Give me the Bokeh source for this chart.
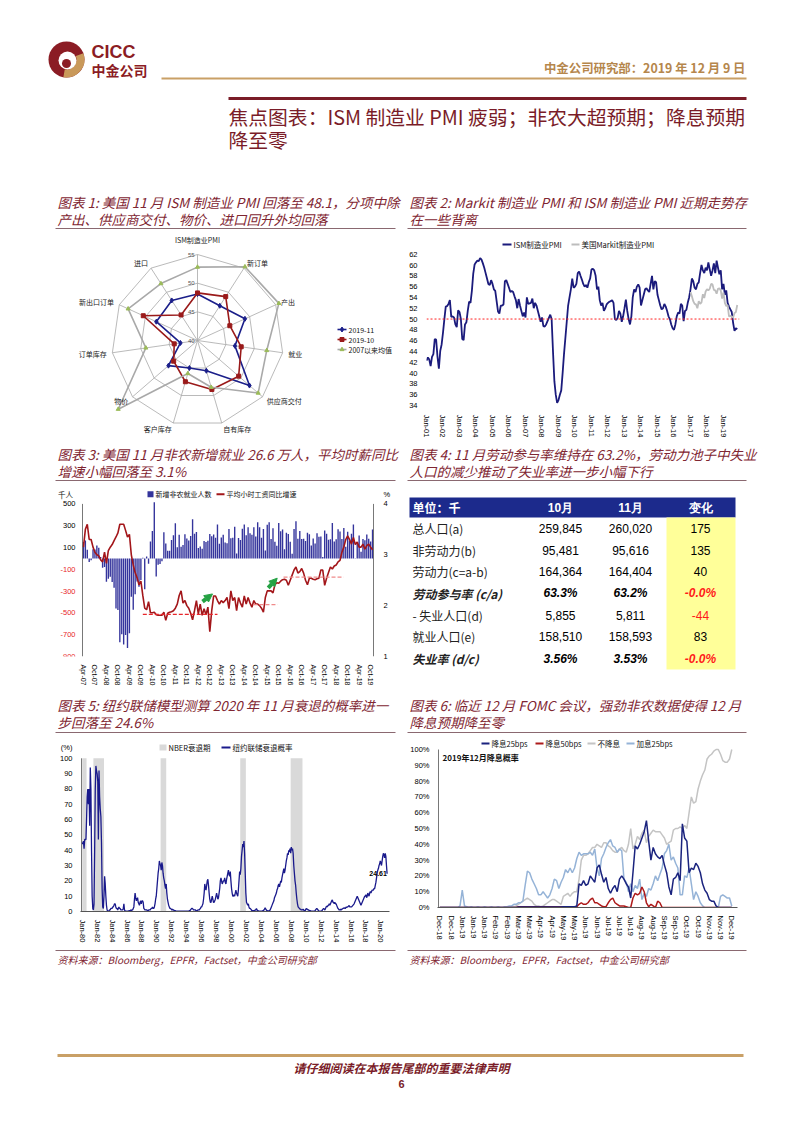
import math
from bokeh.plotting import figure
from bokeh.models import (Range1d, LinearAxis, FixedTicker, Arrow, NormalHead, Span,
                          PrintfTickFormatter)
from bokeh.layouts import column, row
from bokeh.embed import file_html
from bokeh.resources import INLINE
from bokeh.core.properties import value

CJK = "Noto Sans CJK SC"
SANS = "Liberation Sans"
MAROON = "#7f2632"
RULE = "#8a6870"
GOLD = "#c9a066"
LOGO_RED = "#8b1c24"

# ---------------- chart 1: radar ----------------
radar_axes = ["ISM制造业PMI", "新订单", "产出", "就业", "供应商交付", "自有库存",
              "客户库存", "物价", "订单库存", "新出口订单", "进口"]
pmi_nov = [48.1, 47.2, 49.1, 46.6, 52.0, 45.5, 45.0, 46.7, 43.0, 47.9, 48.3]
pmi_oct = [48.3, 49.1, 46.2, 47.7, 49.5, 48.9, 47.5, 45.5, 44.1, 50.4, 45.3]
pmi_avg = [52.8, 55.3, 55.6, 52.2, 54.0, 48.5, 46.0, 58.3, 49.1, 53.3, 51.8]
radar_series = ["2019-11", "2019-10", "2007以来均值"]
radar_ticks = [40, 45, 50, 55]

# ---------------- chart 2: ISM vs Markit ----------------
ism_2001 = [42.3, 42.9, 42.5, 41.3, 43.0, 43.5, 46.3, 46.2, 43.0, 40.8, 44.1, 45.3]
ism_2002 = [47.5, 50.0, 52.3, 52.4, 52.8, 53.5, 50.4, 50.5, 50.3, 49.0, 48.5, 51.6]
ism_2003 = [51.3, 50.0, 46.3, 46.1, 49.0, 49.4, 51.5, 53.2, 53.0, 55.2, 58.4, 60.1]
ism_2004 = [60.5, 60.8, 60.7, 61.3, 61.0, 60.3, 59.5, 58.5, 57.5, 56.5, 56.3, 57.2]
ism_2005 = [56.5, 55.5, 55.2, 53.3, 51.4, 51.0, 52.5, 52.5, 52.7, 57.0, 57.2, 56.5]
ism_2006 = [55.8, 55.0, 55.2, 55.0, 54.2, 53.5, 52.0, 53.7, 52.5, 51.5, 50.5, 51.2]
ism_2007 = [50.3, 54.0, 52.8, 52.9, 53.0, 53.8, 52.0, 53.0, 52.5, 51.5, 50.5, 49.5]
ism_2008 = [50.3, 48.7, 48.6, 49.0, 49.6, 50.2, 50.8, 50.0, 44.0, 38.5, 36.0, 34.5]
ism_2009 = [35.0, 36.0, 36.8, 40.0, 43.5, 46.5, 49.5, 52.5, 54.0, 55.5, 57.5, 55.8]
ism_2010 = [56.0, 56.5, 58.5, 58.8, 58.0, 57.3, 56.5, 56.0, 56.3, 55.8, 56.8, 57.5]
ism_2011 = [59.2, 59.3, 59.0, 58.0, 55.5, 56.0, 53.5, 52.5, 53.0, 51.5, 52.0, 52.7]
ism_2012 = [53.0, 53.2, 53.3, 53.5, 53.0, 50.0, 49.8, 50.2, 51.5, 51.0, 49.5, 50.5]
ism_2013 = [52.0, 53.6, 51.5, 50.0, 49.0, 50.5, 54.0, 55.5, 55.0, 56.0, 56.4, 55.8]
ism_2014 = [52.5, 53.5, 54.5, 55.5, 55.7, 55.3, 55.0, 56.5, 58.0, 55.5, 57.0, 56.8]
ism_2015 = [54.5, 53.5, 52.5, 51.8, 52.0, 52.8, 52.3, 51.5, 50.5, 50.0, 49.0, 48.3]
ism_2016 = [48.0, 49.0, 50.5, 51.2, 51.0, 52.8, 52.5, 49.6, 51.5, 51.7, 53.0, 54.0]
ism_2017 = [55.5, 57.5, 57.0, 55.8, 55.5, 56.5, 56.8, 58.5, 60.0, 59.0, 58.5, 59.5]
ism_2018 = [59.0, 60.5, 59.2, 58.0, 59.0, 60.3, 58.5, 60.8, 59.5, 58.3, 59.0, 55.5]
ism_2019 = [56.5, 54.5, 55.3, 53.0, 52.3, 51.8, 51.3, 49.3, 47.8, 48.3, 48.1]
markit_2017 = [55.0, 54.2, 53.3, 52.8, 52.7, 52.0, 53.3, 52.8, 53.1, 54.6, 53.9, 55.1]
markit_2018 = [55.5, 55.3, 55.6, 56.5, 56.4, 55.4, 55.3, 54.7, 55.6, 55.7, 55.3, 53.8]
markit_2019 = [54.9, 53.0, 52.4, 52.6, 50.5, 50.6, 50.4, 50.3, 51.1, 51.3, 52.6]
pmi_series = ["ISM制造业PMI", "美国Markit制造业PMI"]
pmi_years = list(range(2001, 2020))
pmi_year_labels = ["Jan-%02d" % (y % 100) for y in pmi_years]
pmi_ticks = list(range(34, 63, 2))

# ---------------- chart 3: payrolls & wages (Apr-2007 .. Nov-2019) ----------------
nfp_2007 = [150, 165, 79, -34, -18, 85, 82, 118, 97]
nfp_2008 = [14, -85, -79, -215, -186, -169, -216, -270, -459, -473, -770, -695]
nfp_2009 = [-791, -703, -823, -686, -351, -470, -329, -212, -260, -197, 6, -283]
nfp_2010 = [18, -50, 156, 251, 516, -167, -58, -51, -27, 241, 137, 71]
nfp_2011 = [70, 168, 212, 322, 102, 217, 106, 122, 221, 183, 164, 205]
nfp_2012 = [360, 226, 243, 96, 110, 88, 160, 150, 161, 225, 203, 219]
nfp_2013 = [190, 311, 135, 192, 218, 146, 140, 269, 185, 189, 291, 45]
nfp_2014 = [187, 168, 272, 310, 213, 286, 232, 218, 286, 200, 331, 286]
nfp_2015 = [190, 271, 72, 309, 331, 177, 277, 152, 116, 326, 250, 265]
nfp_2016 = [85, 236, 225, 153, 43, 271, 342, 181, 251, 178, 180, 160]
nfp_2017 = [236, 221, 118, 183, 136, 232, 199, 200, 14, 257, 226, 172]
nfp_2018 = [176, 324, 155, 175, 268, 248, 178, 280, 108, 245, 162, 227]
nfp_2019 = [312, 1, 147, 210, 62, 178, 166, 219, 180, 156, 266]
wage_2007 = [3.15, 3.5, 3.6, 3.3, 3.3, 3.15, 3.05, 3.0, 2.98]
wage_2008 = [2.9, 2.86, 3.05, 2.83, 3.08, 3.15, 3.2, 3.28, 3.35, 3.43, 3.6, 3.6]
wage_2009 = [3.6, 3.48, 3.35, 3.4, 3.0, 2.8, 2.65, 2.55, 2.41, 2.48, 2.2, 1.95]
wage_2010 = [1.92, 2.08, 1.86, 1.86, 1.87, 1.82, 1.81, 1.81, 1.81, 1.87, 1.71, 1.85]
wage_2011 = [1.87, 1.88, 1.9, 1.95, 2.03, 2.2, 2.29, 2.05, 2.1, 2.0, 1.95, 1.85]
wage_2012 = [1.72, 1.9, 2.1, 1.84, 2.03, 1.81, 1.94, 1.82, 1.97, 1.49, 1.9, 2.19]
wage_2013 = [2.19, 2.1, 2.03, 2.1, 2.06, 2.1, 2.16, 1.94, 2.29, 2.1, 2.16, 1.9]
wage_2014 = [2.16, 2.05, 1.97, 2.19, 2.03, 2.16, 2.05, 1.97, 2.1, 2.03, 2.03, 2.0]
wage_2015 = [1.95, 1.87, 2.16, 2.29, 2.29, 2.29, 2.25, 2.41, 2.45, 2.44, 2.48, 2.51]
wage_2016 = [2.52, 2.5, 2.4, 2.5, 2.6, 2.7, 2.76, 2.64, 2.67, 2.73, 2.64, 2.5]
wage_2017 = [2.41, 2.54, 2.54, 2.52, 2.51, 2.53, 2.54, 2.7, 2.7, 2.4, 2.54, 2.65]
wage_2018 = [2.76, 2.72, 2.78, 2.8, 2.86, 2.89, 3.05, 3.15, 3.3, 3.37, 3.3, 3.21]
wage_2019 = [3.34, 3.2, 3.25, 3.15, 3.15, 3.21, 3.11, 3.18, 3.21, 3.15, 3.1]
nfp_series = ["新增非农就业人数", "平均小时工资同比增速"]
nfp_tick_labels = ["%s-%02d" % (m, y) for y in range(7, 20) for m in ("Apr", "Oct")]
nfp_left_ticks = [-900, -700, -500, -300, -100, 100, 300, 500]
wage_ticks = [1, 2, 3, 4]
wage_avg_start = [31, 88.8, 104.5]
wage_avg_end = [70, 101.4, 135.9]
wage_avg_level = [1.83, 2.02, 2.56]
arrow_x0 = [62.2, 96.5]
arrow_y0 = [2.08, 2.35]
arrow_x1 = [67.4, 101.2]
arrow_y1 = [2.23, 2.54]

# ---------------- chart 4: table ----------------
tbl_header = ["单位：千", "10月", "11月", "变化"]
tbl_labels = ["总人口(a)", "非劳动力(b)", "劳动力(c=a-b)", "劳动参与率 (c/a)",
              " - 失业人口(d)", "就业人口(e)", "失业率 (d/c)"]
tbl_oct = ["259,845", "95,481", "164,364", "63.3%", "5,855", "158,510", "3.56%"]
tbl_nov = ["260,020", "95,616", "164,404", "63.2%", "5,811", "158,593", "3.53%"]
tbl_chg = ["175", "135", "40", "-0.0%", "-44", "83", "-0.0%"]
tbl_bold_rows = [3, 6]
tbl_red_rows = [3, 4, 6]

# ---------------- chart 5: NY Fed recession probability ----------------
rec_1980 = [45, 44, 46, 41, 47, 47, 47, 60, 75, 80, 70, 80]
rec_1981 = [56, 94, 80, 40, 10, 2, 1, 5, 40, 80, 95, 92]
rec_1982 = [90, 85, 47, 92, 75, 67, 62, 45, 15, 3, 2, 10]
rec_1983 = [23, 18, 10, 4, 1, 0.5, 0.3, 0.5, 1, 1, 2, 2]
rec_1984 = [2, 3, 3, 4, 5, 5, 3, 2, 2, 1, 2, 3]
rec_1985 = [2, 2, 1, 1, 1, 1, 2, 5, 1, 0.5, 0.3, 0.3]
rec_1986 = [0.3, 0.2, 0.3, 0.5, 0.5, 0.5, 1, 0.5, 1, 1, 2, 3]
rec_1987 = [8, 12, 9, 7, 8, 9, 6, 5, 4, 6, 7, 5]
rec_1988 = [7, 7, 6, 2, 1.5, 1, 1, 1, 1, 0.5, 0.5, 1]
rec_1989 = [1, 1, 1.5, 2, 2, 3, 2, 2, 3, 5, 8, 10]
rec_1990 = [15, 20, 25, 28, 33, 31, 30, 27, 32, 30, 25, 22]
rec_1991 = [20, 17, 15, 18, 12, 8, 6, 4, 3, 2, 2, 1.5]
rec_1992 = [1, 1.5, 1, 1, 0.5, 0.5, 0.5, 0.3, 0.3, 0.2, 0.2, 0.2]
rec_1993 = [0.2, 0.2, 0.3, 0.2, 0.2, 0.3, 0.3, 0.2, 0.2, 0.2, 0.2, 0.2]
rec_1994 = [0.2, 0.2, 0.3, 0.3, 0.5, 0.5, 1, 1.5, 2, 2, 1.5, 1]
rec_1995 = [1, 1, 1, 0.5, 0.5, 0.5, 1, 1, 1, 1.5, 2, 3]
rec_1996 = [3, 4, 5, 8, 12, 18, 15, 14, 17, 20, 21, 17]
rec_1997 = [12, 8, 6, 6, 8, 10, 8, 6, 6, 7, 8, 10]
rec_1998 = [12, 10, 8, 9, 12, 15, 20, 22, 20, 18, 19, 20]
rec_1999 = [20, 22, 19, 18, 21, 23, 25, 27, 24, 23, 26, 20]
rec_2000 = [15, 12, 10, 10, 11, 10, 12, 14, 12, 11, 10, 14]
rec_2001 = [20, 26, 24, 28, 36, 40, 44, 42, 46, 38, 25, 12]
rec_2002 = [6, 5, 4, 5, 3, 2, 2, 1.5, 1, 0.5, 0.5, 0.5]
rec_2003 = [0.5, 0.5, 1, 1, 2, 1, 0.5, 0.5, 0.3, 0.3, 0.3, 0.3]
rec_2004 = [0.3, 0.3, 0.5, 0.5, 1, 1.5, 2.5, 1.5, 1, 0.5, 0.5, 0.3]
rec_2005 = [0.5, 0.5, 1, 2, 3, 4, 5, 6, 7, 9, 10, 11]
rec_2006 = [12, 14, 15, 17, 18, 16, 18, 20, 19, 22, 24, 26]
rec_2007 = [28, 25, 27, 30, 33, 35, 38, 37, 40, 39, 41, 38]
rec_2008 = [42, 40, 41, 38, 30, 25, 20, 17, 12, 8, 5, 3]
rec_2009 = [2.5, 2, 1.5, 1.5, 1, 1, 1, 1.5, 1, 0.5, 0.5, 1]
rec_2010 = [2, 1.5, 1.5, 1, 1, 0.5, 0.5, 0.5, 0.3, 0.3, 0.3, 0.3]
rec_2011 = [0.3, 0.3, 0.5, 1, 1.5, 2, 1.5, 1, 0.5, 0.3, 0.3, 0.3]
rec_2012 = [0.3, 0.5, 1, 1.5, 2, 1.5, 1, 2, 3, 3.5, 3, 4]
rec_2013 = [4, 5, 4, 5, 6, 7, 7.5, 6, 6, 5, 6, 5]
rec_2014 = [5, 4, 3, 2, 1.5, 1, 1, 1.5, 1, 1.5, 1.5, 2]
rec_2015 = [2, 2.5, 2, 2, 3, 2.5, 3, 3, 3.5, 4, 3, 3]
rec_2016 = [3, 3, 3.5, 4, 4.5, 5, 6, 7, 8, 9, 10, 9]
rec_2017 = [8, 7, 6, 5, 4, 5, 6, 7, 8, 9, 10, 10]
rec_2018 = [11, 9, 10, 12, 11, 10, 12, 13, 12, 13, 14, 14]
rec_2019 = [14, 15, 15, 17, 19, 22, 25, 27, 28, 30, 31, 33]
rec_2020 = [32, 30, 33, 36, 38, 37, 35, 38, 36, 30, 24.61]
nber_start = [(1980, 1), (1981, 7), (1990, 7), (2001, 3), (2007, 12)]
nber_end = [(1980, 7), (1982, 11), (1991, 3), (2001, 11), (2009, 6)]
rec_series = ["NBER衰退期", "纽约联储衰退概率"]
rec_years = list(range(1980, 2021, 2))
rec_year_labels = ["Jan-%02d" % (y % 100) for y in rec_years]
rec_ticks = list(range(0, 101, 10))

# ---------------- chart 6: Dec-2019 FOMC probabilities ----------------
fomc_days = list(range(0, 261, 2))
fomc_hike25 = [0, 0, 0, 0, 0, 0, 0, 0, 0, 1,
               11, 1, 0.5, 0, 0.5, 0, 0, 0.5, 0, 0,
               0.5, 0, 0, 0.5, 0, 0, 0.5, 0, 0, 0.5,
               0.5, 1, 1, 2, 2, 3, 3, 4, 14, 23,
               22, 18, 15, 12, 8, 8, 10, 8, 6, 8,
               12, 18, 17, 12, 16, 19, 24, 22, 25, 22,
               25, 31, 35, 33, 34, 34, 34, 35, 33, 37,
               25, 20, 31, 34, 38, 41, 43, 39, 38, 35,
               37, 36, 18, 16, 10, 15, 10, 14, 12, 18,
               5, 9, 7, 12, 11, 15, 20, 17, 21, 25,
               34, 36, 40, 30, 32, 28, 25, 8, 8, 20,
               19, 25, 15, 5, 10, 7, 3, 1, 0, 0,
               0, 0, 0, 0, 0, 7, 8, 7, 6, 6,
               1]
fomc_hold = [0, 0, 0, 0, 0, 0, 0, 0, 0, 0,
             0, 0, 0, 0, 0, 0, 0, 0, 0, 0,
             0, 0, 0, 0, 0, 0, 0, 0, 0, 0,
             0, 0, 0.5, 0.5, 1, 2, 3, 4, 5, 6,
             5, 4, 2, 1, 1, 0.5, 1, 2, 3, 4,
             5, 5, 4, 3, 2, 7, 8, 9, 7, 9,
             10, 10, 18, 30, 33, 33, 34, 36, 38, 38,
             40, 39, 38, 41, 41, 39, 38, 36, 35, 35,
             37, 38, 36, 35, 40, 50, 37, 40, 45, 43,
             47, 49, 41, 45, 47, 49, 48, 48, 48, 46,
             44, 40, 41, 42, 49, 50, 50, 51, 50, 52,
             50, 60, 70, 66, 67, 75, 80, 84, 87, 94,
             96, 97, 99, 100, 100, 97, 93, 92, 92, 94,
             100]
fomc_cut25 = [0, 0, 0, 0, 0, 0, 0, 0, 0, 0,
              0, 0, 0, 0, 0, 0, 0, 0, 0, 0,
              0, 0, 0, 0, 0, 0, 0, 0, 0, 0,
              0, 0, 0, 0, 0, 0.3, 0.3, 0.3, 0.3, 0.3,
              0.3, 0.3, 0.3, 0.3, 0.3, 0.3, 0.3, 0.3, 0.3, 0.3,
              0.3, 0.3, 0.3, 0.3, 0.3, 0.5, 0.5, 0.5, 0.5, 0.5,
              0.5, 1, 15, 14, 17, 14, 15, 20, 18, 16,
              25, 27, 21, 16, 19, 12, 9, 12, 14, 10,
              18, 20, 18, 15, 13, 6, 22, 39, 37, 40,
              44, 48, 55, 42, 30, 38, 34, 32, 31, 33,
              27, 22, 13, 8, 18, 19, 22, 17, 53, 44,
              42, 22, 25, 24, 28, 26, 22, 15, 11, 9,
              5, 4, 4, 1, 0, 0, 0, 0, 0, 0,
              0]
fomc_cut50 = [0, 0, 0, 0, 0, 0, 0, 0, 0, 0,
              0, 0, 0, 0, 0, 0, 0, 0, 0, 0,
              0, 0, 0, 0, 0, 0, 0, 0, 0, 0,
              0, 0, 0, 0, 0, 0.5, 0.5, 0.5, 0.5, 0.5,
              0.5, 0.5, 0.5, 0.5, 0.5, 0.5, 0.5, 0.5, 0.5, 0.5,
              0.5, 0.5, 0.5, 0.5, 0.5, 0.5, 0.5, 0.5, 0.5, 0.5,
              0.5, 0.5, 2, 3, 2, 2, 3, 5, 6, 3,
              3, 2, 1, 0.5, 0.5, 3, 5, 6, 3, 2,
              1, 1, 1, 0.5, 0, 0, 6, 9, 8, 9,
              13, 10, 3, 0.5, 2, 1, 0, 4, 3, 0,
              0, 0, 0, 0, 0, 0, 0, 0, 0, 0,
              0, 0, 0, 0, 0, 0, 0, 0, 0, 0,
              0, 0, 0, 0, 0, 0, 0, 0, 0, 0,
              0]
fomc_series = ["降息25bps", "降息50bps", "不降息", "加息25bps"]
fomc_tick_days = list(range(0, 261, 10))
fomc_tick_labels = ["Dec-18", "Dec-18", "Jan-19", "Jan-19", "Jan-19", "Feb-19", "Feb-19",
                    "Mar-19", "Mar-19", "Apr-19", "Apr-19", "May-19", "May-19", "Jun-19",
                    "Jun-19", "Jul-19", "Jul-19", "Jul-19", "Aug-19", "Aug-19", "Sep-19",
                    "Sep-19", "Oct-19", "Oct-19", "Nov-19", "Nov-19", "Dec-19"]
fomc_ticks = list(range(0, 101, 10))


# ---------------- helpers ----------------
def mapper(p0, p1, d0, d1):
    return lambda px: d0 + (px - p0) * (d1 - d0) / (p1 - p0)


def fig(**kw):
    base_kw = dict(toolbar_location=None, output_backend="svg", outline_line_color=None,
                   frame_align=False)
    base_kw.update(kw)
    return figure(**base_kw)


def band(top, bottom):
    return fig(width=802, height=bottom - top, x_range=Range1d(0, 802), y_range=Range1d(bottom, top),
               x_axis_type=None, y_axis_type=None, min_border=0)


def txt(p, x, y, s, size, color, font=CJK, style="normal", align="left"):
    p.text(x=[x], y=[y], text=[s], text_font=value(font), text_font_size=size,
           text_color=color, text_font_style=style, text_align=align, text_baseline="middle")


def rules(p, y, color=RULE, width=1):
    p.segment(x0=[55, 407], y0=[y, y], x1=[395, 746], y1=[y, y], line_color=color, line_width=width)


def titles(p, y1, y2, left, right):
    for x, lines in ((57, left), (409, right)):
        txt(p, x, y1, lines[0], "13.5px", MAROON, style="italic")
        txt(p, x, y2, lines[1], "13.5px", MAROON, style="italic")


def manual_legend(p, X, Y, y, entries, size="7.5px"):
    for kind, xa, xb, lab, col in entries:
        if kind == "box":
            p.quad(left=[X(xa)], right=[X(xb)], top=[Y(y - 3)], bottom=[Y(y + 3)],
                   fill_color=col, line_color=None)
        else:
            p.segment(x0=[X(xa)], x1=[X(xb)], y0=[Y(y)], y1=[Y(y)], line_color=col, line_width=2)
        p.text(x=[X(xb + 2)], y=[Y(y)], text=[lab], text_font=value(CJK), text_font_size=size,
               text_color="#111111", text_align="left", text_baseline="middle")


def style_axis(ax, size="7.5px"):
    ax.major_label_text_font = SANS
    ax.major_label_text_font_size = size
    ax.major_label_text_color = "#000000"
    ax.minor_tick_line_color = None
    ax.major_tick_line_color = None
    ax.major_label_standoff = 3


# ---------------- band A: header ----------------
bandA = band(0, 232)
bandA.circle(x=[66], y=[59], radius=18, fill_color=LOGO_RED, line_color=None)
bandA.annular_wedge(x=[66], y=[59], inner_radius=10, outer_radius=18,
                    start_angle=-math.radians(100), end_angle=math.radians(20),
                    fill_color="#c9995a", line_color=None)
bandA.circle(x=[67], y=[60], radius=9, fill_color="white", line_color=None)
bandA.circle(x=[66], y=[63], radius=4.5, fill_color=LOGO_RED, line_color=None)
txt(bandA, 91, 51, "CICC", "18px", LOGO_RED, font=SANS, style="bold")
txt(bandA, 91, 69, "中金公司", "14px", LOGO_RED, style="bold")
txt(bandA, 745, 67, "中金公司研究部：2019 年 12 月 9 日", "12.4px", "#b5864c", style="bold", align="right")
bandA.segment(x0=[161], y0=[78], x1=[746], y1=[78], line_color=GOLD, line_width=2)
bandA.segment(x0=[228], y0=[98], x1=[746], y1=[98], line_color="#7a1c28", line_width=3)
txt(bandA, 228, 116, "焦点图表：ISM 制造业 PMI 疲弱；非农大超预期；降息预期", "19.8px", "#7a1c28")
txt(bandA, 228, 139, "降至零", "19.8px", "#7a1c28")
titles(bandA, 201, 218,
       ["图表 1: 美国 11 月 ISM 制造业 PMI 回落至 48.1，分项中除", "产出、供应商交付、物价、进口回升外均回落"],
       ["图表 2: Markit 制造业 PMI 和 ISM 制造业 PMI 近期走势存", "在一些背离"])
rules(bandA, 228)

# ---------------- chart 1: radar (page x 0..397, y 232..440, centre 197,340) ----------------
PXU = 86.0 / 15.0
rad = fig(width=397, height=208, x_range=Range1d((0 - 197) / PXU, (397 - 197) / PXU),
          y_range=Range1d(-(440 - 340) / PXU, (340 - 232) / PXU),
          x_axis_type=None, y_axis_type=None, min_border=0)
RX = mapper(197, 197 + PXU, 0, 1)
RY = mapper(340, 340 - PXU, 0, 1)
K = len(radar_axes)
ang = [2 * math.pi * k / K for k in range(K)]
base = radar_ticks[0]


def polar(vals):
    xs = [(v - base) * math.sin(a) for v, a in zip(vals, ang)]
    ys = [(v - base) * math.cos(a) for v, a in zip(vals, ang)]
    return xs, ys


for ring in radar_ticks[1:]:
    xs, ys = polar([ring] * K)
    rad.line(xs + xs[:1], ys + ys[:1], line_color="#a8a8a8", line_width=0.8)
sx, sy = polar([radar_ticks[-1]] * K)
rad.segment(x0=[0] * K, y0=[0] * K, x1=sx, y1=sy, line_color="#a8a8a8", line_width=0.8)

radar_style = [("#1b1f8a", "diamond", 5, "#1b1f8a"),
               ("#9a1a1a", "square", 4, "#9a1a1a"),
               ("#a9a9a9", "triangle", 4, "#9bbb59")]
for i, (vals, (col, mk, sz, mcol)) in enumerate(zip([pmi_nov, pmi_oct, pmi_avg], radar_style)):
    xs, ys = polar(vals)
    rad.line(xs + xs[:1], ys + ys[:1], line_color=col, line_width=1.6)
    rad.scatter(xs, ys, marker=mk, size=sz, fill_color=mcol, line_color=mcol)
    ly = 329 + 10 * i
    rad.segment(x0=[RX(337)], x1=[RX(346)], y0=[RY(ly)], y1=[RY(ly)], line_color=col, line_width=1.6)
    rad.scatter([RX(341.5)], [RY(ly)], marker=mk, size=sz, fill_color=mcol, line_color=mcol)
    rad.text(x=[RX(348)], y=[RY(ly)], text=[radar_series[i]], text_font=value(CJK),
             text_font_size="7px", text_color="#111111", text_baseline="middle")

groups = {"left": ([], [], []), "right": ([], [], []), "center": ([], [], [])}
for k, name in enumerate(radar_axes):
    a = ang[k]
    if k == 0:
        x, y, al = 0.0, 17.6, "center"
    else:
        x, y = 16.0 * math.sin(a), 16.0 * math.cos(a)
        al = "left" if math.sin(a) > 0.05 else ("right" if math.sin(a) < -0.05 else "center")
    groups[al][0].append(x)
    groups[al][1].append(y)
    groups[al][2].append(name)
for al, (xs, ys, ts) in groups.items():
    if ts:
        rad.text(x=xs, y=ys, text=ts, text_font=value(CJK), text_font_size="7px",
                 text_color="#222222", text_align=al, text_baseline="middle")
rad.text(x=[-0.5] * len(radar_ticks), y=[t - base for t in radar_ticks],
         text=[str(t) for t in radar_ticks], text_font=value(SANS), text_font_size="6px",
         text_color="#555555", text_align="right", text_baseline="middle")

# ---------------- chart 2: PMI lines (page x 397..802, frame 426..739 x 237..408) ----------------
ism = (ism_2001 + ism_2002 + ism_2003 + ism_2004 + ism_2005 + ism_2006 + ism_2007 + ism_2008 +
       ism_2009 + ism_2010 + ism_2011 + ism_2012 + ism_2013 + ism_2014 + ism_2015 + ism_2016 +
       ism_2017 + ism_2018 + ism_2019)
markit = markit_2017 + markit_2018 + markit_2019
ism_x = [2001 + i / 12 for i in range(len(ism))]
markit_x = [2017 + i / 12 for i in range(len(markit))]
P2_TOP = 62 + (254 - 237) / 5.5
pmi = fig(width=405, height=208, x_range=Range1d(2001.0, 2019.97), y_range=Range1d(34, P2_TOP),
          min_border_left=29, min_border_right=63, min_border_top=5, min_border_bottom=32)
X2 = mapper(426, 739, 2001.0, 2019.97)
Y2 = mapper(408, 237, 34, P2_TOP)
pmi.xgrid.visible = False
pmi.ygrid.visible = False
pmi.add_layout(Span(location=50, dimension="width", line_color="#ff2020", line_dash="2 2", line_width=1))
pmi.line(ism_x, ism, line_color="#1b1b7c", line_width=1.8)
pmi.line(markit_x, markit, line_color="#bdbdbd", line_width=1.8)
pmi.xaxis.ticker = FixedTicker(ticks=pmi_years)
pmi.xaxis.major_label_overrides = {float(y): l for y, l in zip(pmi_years, pmi_year_labels)}
pmi.xaxis.major_label_orientation = "vertical"
pmi.yaxis.ticker = FixedTicker(ticks=pmi_ticks)
for ax in (pmi.xaxis[0], pmi.yaxis[0]):
    style_axis(ax)
    ax.axis_line_color = None
manual_legend(pmi, X2, Y2, 244, [("line", 502, 511, pmi_series[0], "#1b1b7c"),
                                 ("line", 571, 579, pmi_series[1], "#bdbdbd")])

# ---------------- band B ----------------
bandB = band(440, 484)
titles(bandB, 453, 470,
       ["图表 3: 美国 11 月非农新增就业 26.6 万人，平均时薪同比", "增速小幅回落至 3.1%"],
       ["图表 4: 11 月劳动参与率维持在 63.2%，劳动力池子中失业", "人口的减少推动了失业率进一步小幅下行"])
rules(bandB, 480)

# ---------------- chart 3: payrolls (page x 0..397, frame 40..374 x 487..662) ----------------
nfp = (nfp_2007 + nfp_2008 + nfp_2009 + nfp_2010 + nfp_2011 + nfp_2012 + nfp_2013 + nfp_2014 +
       nfp_2015 + nfp_2016 + nfp_2017 + nfp_2018 + nfp_2019)
wage = (wage_2007 + wage_2008 + wage_2009 + wage_2010 + wage_2011 + wage_2012 + wage_2013 +
        wage_2014 + wage_2015 + wage_2016 + wage_2017 + wage_2018 + wage_2019)
mi = list(range(len(nfp)))
PPM = 291 / 152.0
X3 = mapper(82, 82 + PPM, -0.5, 0.5)
Y3 = mapper(662, 504, -900, 500)
W3 = mapper(662, 504, 1, 4)
nfig = fig(width=397, height=204, x_range=Range1d(X3(40), X3(374)), y_range=Range1d(-900, Y3(487)),
           y_axis_location=None, min_border_left=40, min_border_right=23, min_border_top=3,
           min_border_bottom=26)
nfig.extra_y_ranges = {"wage": Range1d(1, W3(487))}
nfig.xgrid.visible = False
nfig.ygrid.visible = False
nfig.vbar(x=mi, top=nfp, width=0.72, fill_color="#34349c", line_color=None)
nfig.line(mi, wage, y_range_name="wage", line_color="#a3161a", line_width=1.6)
avg_colors = ["#e8262b", "#f08a8a", "#f08a8a"]
nfig.segment(x0=wage_avg_start, x1=wage_avg_end, y0=wage_avg_level, y1=wage_avg_level,
             y_range_name="wage", line_color=avg_colors, line_dash="4 2", line_width=1.3)
for xa, ya, xb, yb in zip(arrow_x0, arrow_y0, arrow_x1, arrow_y1):
    nfig.add_layout(Arrow(end=NormalHead(size=8, fill_color="#25a244", line_color="#25a244"),
                          x_start=xa, y_start=ya, x_end=xb, y_end=yb, y_range_name="wage",
                          line_color="#25a244", line_width=4))
nfig.segment(x0=[-0.5, 151.5], x1=[-0.5, 151.5], y0=[-900, -900], y1=[500, 500],
             line_color="#555555", line_width=0.8)
nfig.text(x=[-0.5] * len(nfp_left_ticks), y=nfp_left_ticks, text=[str(v) for v in nfp_left_ticks],
          text_color=["#e8262b" if v < 0 else "#000000" for v in nfp_left_ticks],
          x_offset=-7, text_align="right", text_baseline="middle", text_font=value(SANS),
          text_font_size="7.5px")
nfig.text(x=[X3(65)], y=[Y3(494)], text=["千人"], text_font=value(CJK), text_font_size="7.5px",
          text_align="center", text_baseline="middle", text_color="#111111")
nfig.xaxis.ticker = FixedTicker(ticks=list(range(0, 151, 6)))
nfig.xaxis.major_label_overrides = {float(t): l for t, l in zip(range(0, 151, 6), nfp_tick_labels)}
nfig.xaxis.major_label_orientation = "vertical"
style_axis(nfig.xaxis[0], "7px")
nfig.xaxis.axis_line_color = None
nfig.xaxis.major_label_standoff = 2
pct_tick = 4.19
rax = LinearAxis(y_range_name="wage", ticker=FixedTicker(ticks=wage_ticks + [pct_tick]))
rax.major_label_overrides = {pct_tick: "%"}
style_axis(rax)
rax.axis_line_color = None
nfig.add_layout(rax, "right")
manual_legend(nfig, X3, Y3, 494, [("box", 147, 153, nfp_series[0], "#34349c"),
                                  ("line", 216, 224, nfp_series[1], "#a3161a")], size="7px")

# ---------------- chart 4: table ----------------
tbl = fig(width=405, height=204, x_range=Range1d(397, 802), y_range=Range1d(688, 484),
          x_axis_type=None, y_axis_type=None, min_border=0)
ROW_H = 21.7
n_rows = len(tbl_labels)
tbl.quad(left=[409], right=[735], top=[497], bottom=[517], fill_color="#1c2a8c", line_color=None)
tbl.quad(left=[666], right=[735], top=[517], bottom=[517 + ROW_H * n_rows], fill_color="#ffff99",
         line_color=None)
col_x = [412, 560, 630, 700]
for j, h in enumerate(tbl_header):
    txt(tbl, col_x[j], 507, h, "12px", "white", font=CJK if j == 0 else SANS, style="bold",
        align="left" if j == 0 else "center")
for i in range(n_rows):
    y = 517 + ROW_H * (i + 0.5)
    st = "bold italic" if i in tbl_bold_rows else "normal"
    txt(tbl, col_x[0], y, tbl_labels[i], "12px", "#222222", style=st)
    txt(tbl, col_x[1], y, tbl_oct[i], "12px", "#000000", font=SANS, style=st, align="center")
    txt(tbl, col_x[2], y, tbl_nov[i], "12px", "#000000", font=SANS, style=st, align="center")
    txt(tbl, col_x[3], y, tbl_chg[i], "12px", "#ff1a1a" if i in tbl_red_rows else "#000000",
        font=SANS, style=st, align="center")

# ---------------- band C ----------------
bandC = band(688, 735)
titles(bandC, 704, 721,
       ["图表 5: 纽约联储模型测算 2020 年 11 月衰退的概率进一", "步回落至 24.6%"],
       ["图表 6: 临近 12 月 FOMC 会议，强劲非农数据使得 12 月", "降息预期降至零"])
rules(bandC, 732)

# ---------------- chart 5: recession probability (frame 80..389 x 740..913) ----------------
rec = (rec_1980 + rec_1981 + rec_1982 + rec_1983 + rec_1984 + rec_1985 + rec_1986 + rec_1987 +
       rec_1988 + rec_1989 + rec_1990 + rec_1991 + rec_1992 + rec_1993 + rec_1994 + rec_1995 +
       rec_1996 + rec_1997 + rec_1998 + rec_1999 + rec_2000 + rec_2001 + rec_2002 + rec_2003 +
       rec_2004 + rec_2005 + rec_2006 + rec_2007 + rec_2008 + rec_2009 + rec_2010 + rec_2011 +
       rec_2012 + rec_2013 + rec_2014 + rec_2015 + rec_2016 + rec_2017 + rec_2018 + rec_2019 +
       rec_2020)
rec_x = [1980 + i / 12 for i in range(len(rec))]
X5 = mapper(81.7, 81.7 + 7.467, 1980, 1981)
Y5 = mapper(913, 758, 0, 100)
rfig = fig(width=397, height=210, x_range=Range1d(X5(80), X5(389)), y_range=Range1d(0, Y5(740)),
           min_border_left=80, min_border_right=8, min_border_top=5, min_border_bottom=32)
rfig.xgrid.visible = False
rfig.ygrid.visible = False
rfig.quad(left=[y + (m - 1) / 12 for y, m in nber_start], right=[y + m / 12 for y, m in nber_end],
          bottom=[rec_ticks[0]] * len(nber_start), top=[rec_ticks[-1]] * len(nber_start),
          fill_color="#d9d9d9", line_color=None)
rfig.line(rec_x, rec, line_color="#1a1a8c", line_width=1.3)
rfig.text(x=[rec_x[-1]], y=[rec[-1]], text=["%.2f" % rec[-1]], x_offset=-9, text_font=value(SANS),
          text_font_size="7px", text_font_style="bold", text_align="center", text_baseline="middle")
rfig.segment(x0=[X5(81)], x1=[X5(81)], y0=[0], y1=[100], line_color="#555555", line_width=0.8)
pct5 = 107.1
rfig.xaxis.ticker = FixedTicker(ticks=rec_years)
rfig.xaxis.major_label_overrides = {float(y): l for y, l in zip(rec_years, rec_year_labels)}
rfig.xaxis.major_label_orientation = "vertical"
rfig.yaxis.ticker = FixedTicker(ticks=rec_ticks + [pct5])
rfig.yaxis.major_label_overrides = {pct5: "(%)"}
for ax in (rfig.xaxis[0], rfig.yaxis[0]):
    style_axis(ax)
    ax.major_label_standoff = 2
rfig.xaxis.axis_line_color = "#555555"
rfig.yaxis.axis_line_color = None
manual_legend(rfig, X5, Y5, 747, [("box", 159, 166, rec_series[0], "#d9d9d9"),
                                  ("line", 221, 230, rec_series[1], "#1a1a8c")])

# ---------------- chart 6: FOMC (frame 437..737 x 738..907) ----------------
X6 = mapper(439.3, 439.3 + 1.123, 0, 1)
Y6 = mapper(907, 749, 0, 100)
ffig = fig(width=405, height=210, x_range=Range1d(X6(437), X6(737)), y_range=Range1d(0, Y6(738)),
           min_border_left=40, min_border_right=65, min_border_top=3, min_border_bottom=38)
ffig.xgrid.visible = False
ffig.ygrid.visible = False
ffig.line(fomc_days, fomc_hold, line_color="#c4c4c4", line_width=1.5)
ffig.line(fomc_days, fomc_hike25, line_color="#95b3d7", line_width=1.5)
ffig.line(fomc_days, fomc_cut50, line_color="#ad1a1a", line_width=1.5)
ffig.line(fomc_days, fomc_cut25, line_color="#1a237e", line_width=1.5)
ffig.segment(x0=[X6(438)], x1=[X6(438)], y0=[0], y1=[100], line_color="#555555", line_width=0.8)
ffig.xaxis.ticker = FixedTicker(ticks=fomc_tick_days)
ffig.xaxis.major_label_overrides = {float(d): l for d, l in zip(fomc_tick_days, fomc_tick_labels)}
ffig.xaxis.major_label_orientation = "vertical"
ffig.yaxis.ticker = FixedTicker(ticks=fomc_ticks)
ffig.yaxis.formatter = PrintfTickFormatter(format="%d%%")
for ax in (ffig.xaxis[0], ffig.yaxis[0]):
    style_axis(ax)
    ax.major_label_standoff = 2
ffig.xaxis.axis_line_color = "#555555"
ffig.yaxis.axis_line_color = None
ffig.text(x=[X6(442)], y=[Y6(757)], text=["2019年12月降息概率"], text_font=value(CJK),
          text_font_size="8px", text_font_style="bold", text_baseline="middle", text_color="#111111")
manual_legend(ffig, X6, Y6, 743, [("line", 481, 489, fomc_series[0], "#1a237e"),
                                  ("line", 535, 543, fomc_series[1], "#ad1a1a"),
                                  ("line", 587, 595, fomc_series[2], "#c4c4c4"),
                                  ("line", 626, 634, fomc_series[3], "#95b3d7")])

# ---------------- band D: sources & footer ----------------
bandD = band(945, 1133)
rules(bandD, 950)
src = "资料来源：Bloomberg，EPFR，Factset，中金公司研究部"
txt(bandD, 57, 959, src, "10px", MAROON, style="italic")
txt(bandD, 409, 959, src, "10px", MAROON, style="italic")
bandD.segment(x0=[57], y0=[1055], x1=[743], y1=[1055], line_color=GOLD, line_width=3)
txt(bandD, 401, 1067, "请仔细阅读在本报告尾部的重要法律声明", "12px", "#7a1c28", style="bold italic",
    align="center")
txt(bandD, 401, 1083, "6", "11px", "#7a1c28", font=SANS, style="bold", align="center")

page = column([bandA, row([rad, pmi], spacing=0), bandB, row([nfig, tbl], spacing=0), bandC,
               row([rfig, ffig], spacing=0), bandD], spacing=0)

with open("out.html", "w") as f:
    f.write(file_html(page, INLINE, title="CICC"))
